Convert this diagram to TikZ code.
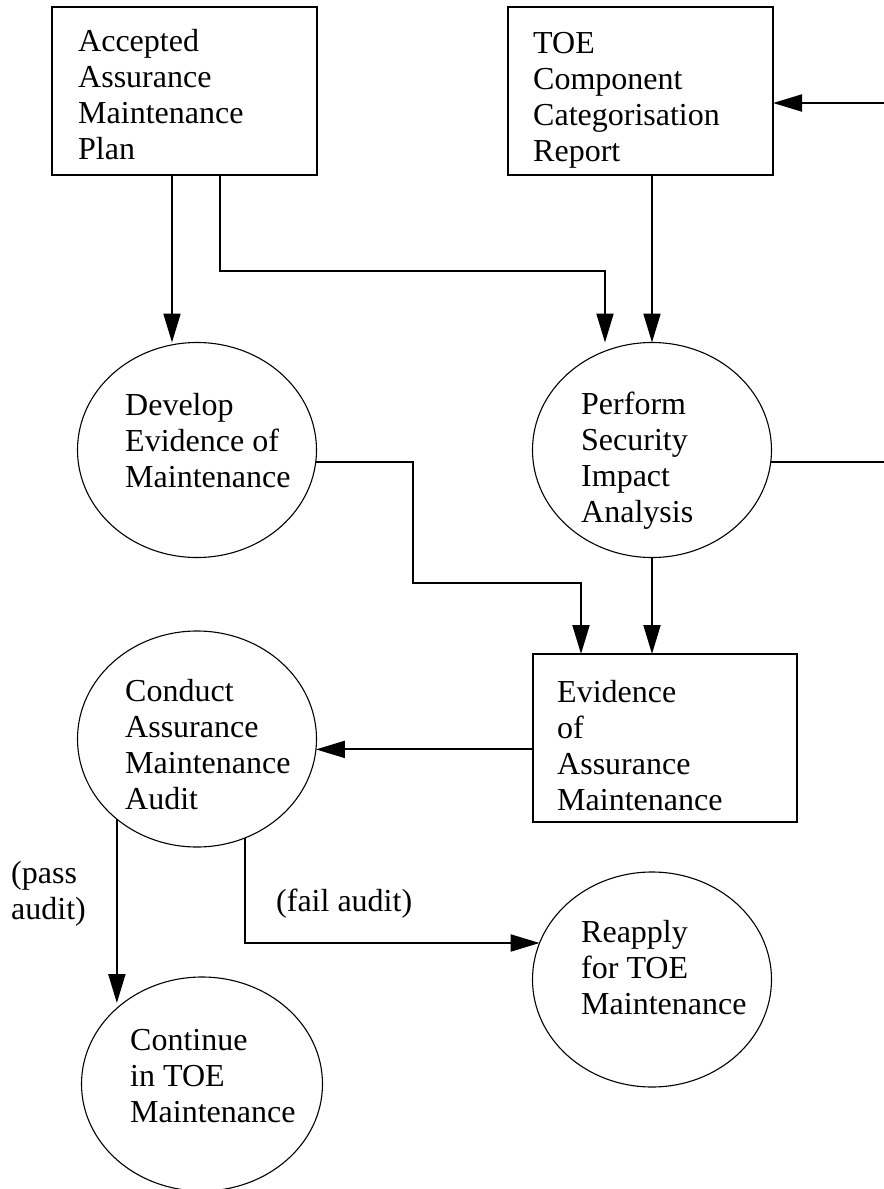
\documentclass[tikz,border=0pt]{standalone}
\usepackage{fontspec}
\setmainfont{Liberation Serif}
\usetikzlibrary{arrows.meta,shapes.geometric}
\begin{document}
\begin{tikzpicture}[x=1bp,y=-1bp,
  box/.style={draw, line width=2bp, inner sep=0pt, outer sep=0pt},
  oval/.style={draw, ellipse, line width=1.1bp, inner sep=0pt, outer sep=0pt, minimum width=239bp, minimum height=215bp},
  txt/.style={align=left, inner sep=0pt, anchor=base west, font=\fontsize{32bp}{36bp}\selectfont},
  conn/.style={line width=2bp},
  arr/.style={conn, -{Triangle[length=29bp,width=17bp]}}]
\useasboundingbox (0,0) rectangle (884,1189);
% boxes
\node[box, minimum width=265bp, minimum height=168bp] (A) at (184.5,91) {};
\node[box, minimum width=265bp, minimum height=168bp] (T) at (640.5,91) {};
\node[box, minimum width=264bp, minimum height=168bp] (E) at (665,738) {};
% ellipses
\node[oval] (D) at (197,450) {};
\node[oval] (P) at (652,450) {};
\node[oval, minimum height=216bp] (C) at (197,739) {};
\node[oval] (R) at (652,979.5) {};
\node[oval, minimum width=241bp, minimum height=214bp] (Co) at (202,1084) {};
% texts (anchored at the baseline of the last line)
\node[txt] (tA) at (78,159) {Accepted\\Assurance\\Maintenance\\Plan};
\node[txt] (tT) at (533,161) {TOE\\Component\\Categorisation\\Report};
\node[txt] (tD) at (125,487) {Develop\\Evidence of\\Maintenance};
\node[txt] (tP) at (581,522) {Perform\\Security\\Impact\\Analysis};
\node[txt] (tE) at (557,810) {Evidence\\of\\Assurance\\Maintenance};
\node[txt] (tC) at (125,809) {Conduct\\Assurance\\Maintenance\\Audit};
\node[txt] (tR) at (581,1014) {Reapply\\for TOE\\Maintenance};
\node[txt] (tCo) at (130,1122) {Continue\\in TOE\\Maintenance};
\node[txt] (lp) at (11,919) {(pass\\audit)};
\node[txt] (lf) at (276,911) {(fail audit)};
% connectors
\coordinate (a1) at (172,0);
\draw[arr] (A.south -| a1) -- (D.north -| a1);
\coordinate (k1) at (220,271);
\coordinate (k2) at (605,271);
\draw[arr] (A.south -| k1) -- (k1) -- (k2) -- (P.north -| k2);
\draw[arr] (T.south -| P.north) -- (P.north);
\coordinate (rin) at (884,103);
\draw[arr] (rin) -- (rin -| T.east);
\draw[conn] (P.-6.3) -- (P.-6.3 -| rin);
\coordinate (m1) at (413,583);
\coordinate (m2) at (581,583);
\draw[arr] (D.-6.3) -| (m1) -- (m2) -- (E.north -| m2);
\draw[arr] (P.south) -- (E.north -| P.south);
\draw[arr] (C.-5.8 -| E.west) -- (C.-5.8);
\coordinate (pe) at (117,1003);
\draw[arr] (C.225) -- (C.225 |- pe);
\draw[arr] (C.-64.5) |- (R.162);
\end{tikzpicture}
\end{document}
